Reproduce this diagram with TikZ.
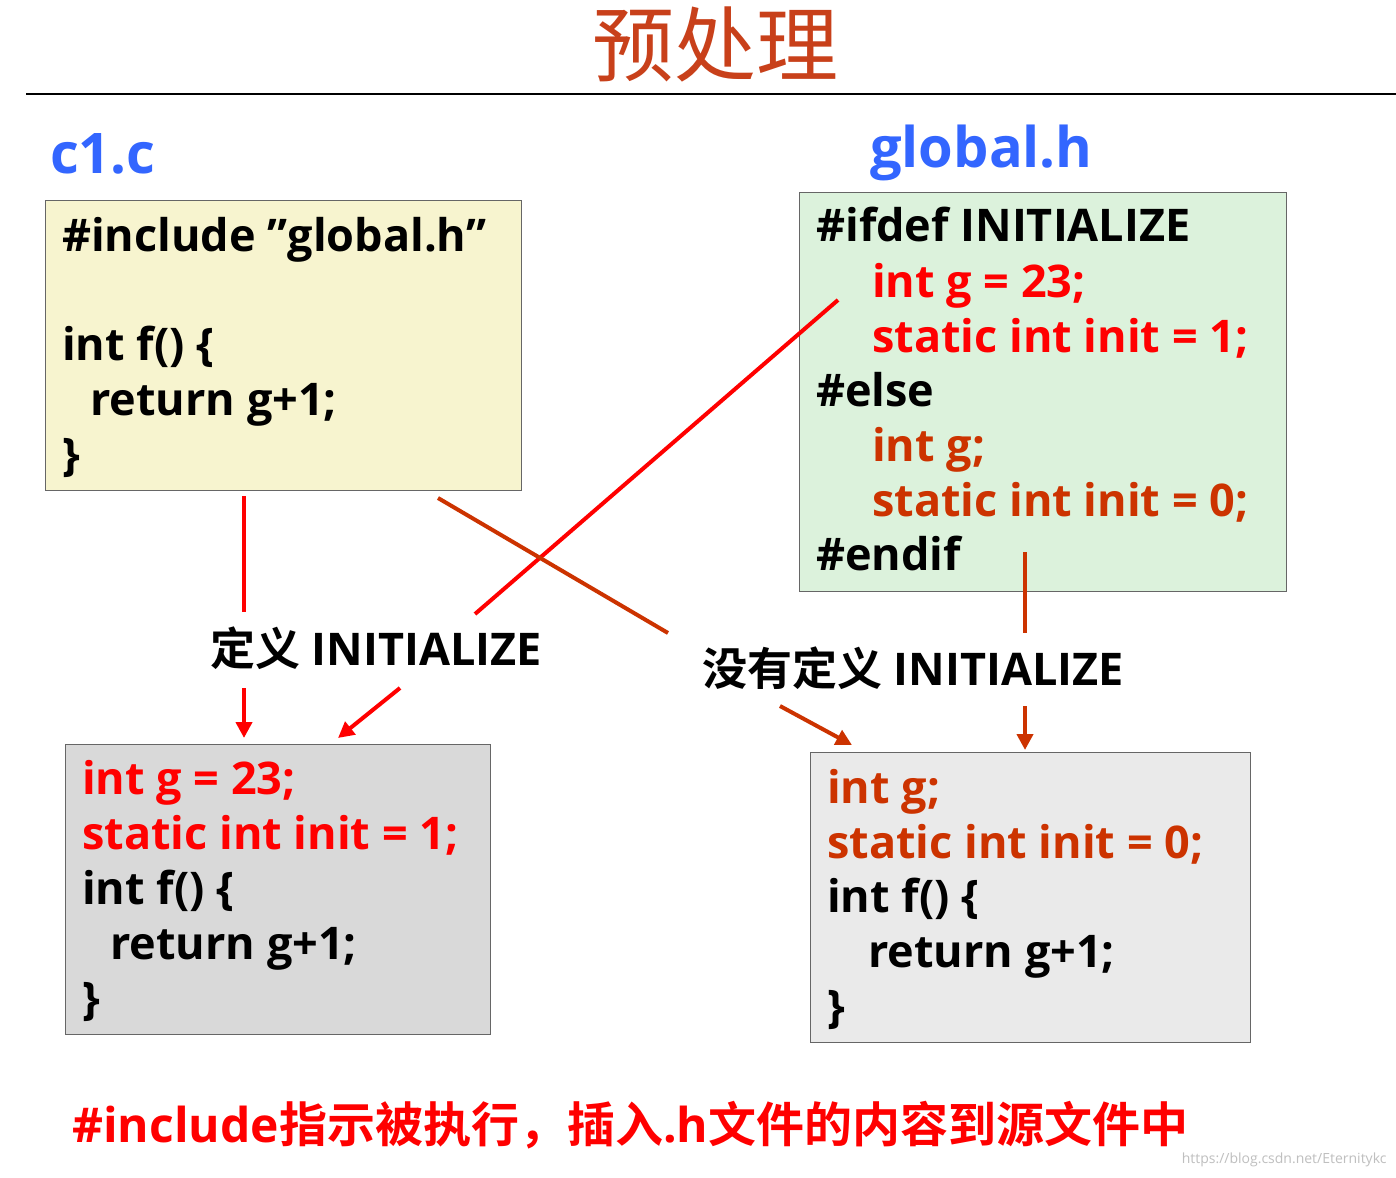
\documentclass[tikz,border=0pt]{standalone}
\usepackage{fontspec}
\setmainfont{Open Sans}[BoldFont={* Bold},Ligatures=NoCommon]
\newfontfamily\cjk{Noto Sans CJK SC}[BoldFont={* Bold}]
\usetikzlibrary{arrows.meta}
\definecolor{tred}{HTML}{C8401A}
\definecolor{cblue}{HTML}{3366FF}
\definecolor{rr}{HTML}{FF0000}
\definecolor{oo}{HTML}{CC3300}
\tikzset{
 code/.style={anchor=mid west,inner sep=0pt,yshift=-13pt,font=\fontsize{45}{52}\selectfont\bfseries},
 box/.style={draw=gray!80!black,line width=1pt,anchor=north west,inner sep=0pt},
 conn/.style={line width=4pt},
 tip/.style={-{Triangle[length=16pt,width=16pt]}},
}
\newcommand\cl[5]{\node[code,text=#4] (#1) at (#2,#3) {#5};}
\begin{document}
\begin{tikzpicture}[x=1pt,y=-1pt]
\useasboundingbox[fill=white] (0,0) rectangle (1396,1177);
\node[text=tred,font=\cjk\fontsize{82}{86}\selectfont] (title) at (715,44) {预处理};
\coordinate (l1) at (26,94); \coordinate (l2) at (1396,94);
\draw[line width=1.5pt] (l1) -- (l2);
\node[code,text=cblue,font=\fontsize{56}{62}\selectfont\bfseries] (c1) at (50,158) {c1.c};
\node[code,text=cblue,font=\fontsize{56}{62}\selectfont\bfseries] (gh) at (870,152) {global.h};
% boxes
\node[box,fill={rgb,255:red,247;green,244;blue,207},minimum width=476pt,minimum height=290pt] (b1) at (45,200) {};
\node[box,fill={rgb,255:red,220;green,242;blue,220},minimum width=487pt,minimum height=399pt] (b2) at (799,192) {};
\node[box,fill={rgb,255:red,217;green,217;blue,217},minimum width=425pt,minimum height=290pt] (b3) at (65,744) {};
\node[box,fill={rgb,255:red,234;green,234;blue,234},minimum width=440pt,minimum height=290pt] (b4) at (810,752) {};
% box1
\cl{a1}{62}{236}{black}{\#include \symbol{34}global.h\symbol{34}}
\cl{a2}{62}{345}{black}{int f() \{}
\cl{a3}{90}{400}{black}{return g+1;}
\cl{a4}{62}{455}{black}{\}}
% box2
\cl{g1}{816}{226}{black}{\#ifdef INITIALIZE}
\cl{g2}{872}{282}{rr}{int g = 23;}
\cl{g3}{872}{337}{rr}{static int init = 1;}
\cl{g4}{816}{391}{black}{\#else}
\cl{g5}{872}{446}{oo}{int g;}
\cl{g6}{872}{501}{oo}{static int init = 0;}
\cl{g7}{816}{555}{black}{\#endif}
% box3
\cl{d1}{82}{779}{rr}{int g = 23;}
\cl{d2}{82}{834}{rr}{static int init = 1;}
\cl{d3}{82}{889}{black}{int f() \{}
\cl{d4}{110}{944}{black}{return g+1;}
\cl{d5}{82}{999}{black}{\}}
% box4
\cl{e1}{827}{788}{oo}{int g;}
\cl{e2}{827}{843}{oo}{static int init = 0;}
\cl{e3}{827}{897}{black}{int f() \{}
\cl{e4}{868}{952}{black}{return g+1;}
\cl{e5}{827}{1007}{black}{\}}
% labels
\node[code] (lab1) at (210,650) {{\cjk\bfseries 定义} INITIALIZE};
\node[code] (lab2) at (702,670) {{\cjk\bfseries 没有定义} INITIALIZE};
% connectors
\coordinate (p1) at (244,496); \coordinate (p2) at (244,612);
\coordinate (p3) at (244,688); \coordinate (p4) at (244,738);
\draw[conn,rr] (p1) -- (p2); \draw[conn,rr,tip] (p3) -- (p4);
\coordinate (q1) at (838,300); \coordinate (q2) at (475,614);
\coordinate (q3) at (400,688); \coordinate (q4) at (338,738);
\draw[conn,rr] (q1) -- (q2); \draw[conn,rr,tip] (q3) -- (q4);
\coordinate (r1) at (438,498); \coordinate (r2) at (668,633);
\coordinate (r3) at (780,706); \coordinate (r4) at (852,745);
\draw[conn,oo] (r1) -- (r2); \draw[conn,oo,tip] (r3) -- (r4);
\coordinate (s1) at (1025,552); \coordinate (s2) at (1025,633);
\coordinate (s3) at (1025,706); \coordinate (s4) at (1025,750);
\draw[conn,oo] (s1) -- (s2); \draw[conn,oo,tip] (s3) -- (s4);
% bottom
\node[code,text=rr,font=\fontsize{48}{54}\selectfont\bfseries] (bot) at (72,1127) {\#include{\cjk\bfseries 指示被执行，插入}.h{\cjk\bfseries 文件的内容到源文件中}};
\node[anchor=east,text=gray!50,font=\fontsize{14}{16}\selectfont] (wm) at (1390,1160) {https://blog.csdn.net/Eternitykc};
\end{tikzpicture}
\end{document}
